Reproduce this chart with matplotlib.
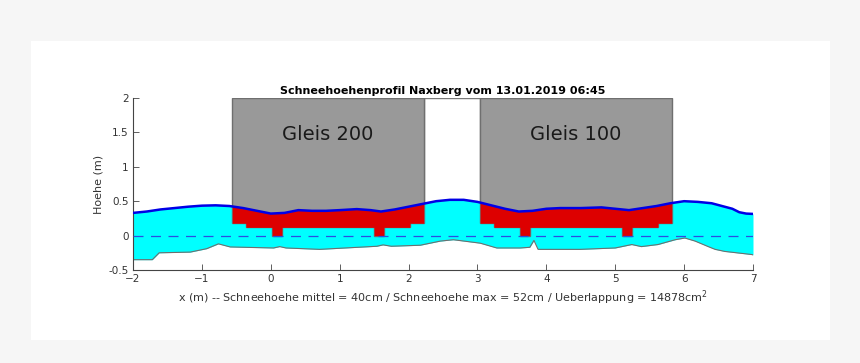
import numpy as np
import matplotlib
matplotlib.use("Agg")
import matplotlib.pyplot as plt
from matplotlib.patches import Rectangle

# snow surface (blue line)
snow_x = [-2.0, -1.8, -1.6, -1.4, -1.2, -1.0, -0.8, -0.6, -0.4, -0.2, 0.0, 0.2, 0.4,
          0.6, 0.8, 1.0, 1.25, 1.45, 1.6, 1.8, 2.0, 2.2, 2.4, 2.6, 2.8, 3.0, 3.2, 3.4,
          3.6, 3.8, 4.0, 4.2, 4.5, 4.8, 5.0, 5.2, 5.4, 5.6, 5.8, 6.0, 6.2, 6.4, 6.55,
          6.7, 6.8, 6.9, 7.0]
snow_y = [0.33, 0.35, 0.38, 0.40, 0.42, 0.435, 0.44, 0.43, 0.40, 0.36, 0.32, 0.33, 0.37,
          0.36, 0.36, 0.37, 0.385, 0.37, 0.35, 0.38, 0.42, 0.46, 0.50, 0.52, 0.52, 0.49,
          0.44, 0.39, 0.35, 0.36, 0.39, 0.40, 0.40, 0.41, 0.39, 0.37, 0.40, 0.43, 0.47,
          0.50, 0.49, 0.47, 0.43, 0.39, 0.34, 0.32, 0.315]

# ground line (lower edge of the snow)
ground_x = [-2.0, -1.72, -1.62, -1.17, -0.93, -0.76, -0.59, 0.04, 0.13, 0.22, 0.71,
            1.54, 1.63, 1.75, 2.17, 2.46, 2.65, 3.04, 3.28, 3.62, 3.76, 3.82, 3.88,
            4.49, 5.0, 5.24, 5.38, 5.62, 5.87, 6.01, 6.16, 6.35, 6.45, 6.59, 6.98, 7.0]
ground_y = [-0.35, -0.35, -0.25, -0.24, -0.19, -0.12, -0.165, -0.18, -0.16, -0.18, -0.2,
            -0.155, -0.135, -0.155, -0.14, -0.08, -0.06, -0.11, -0.18, -0.18, -0.17, -0.07, -0.2,
            -0.2, -0.18, -0.13, -0.16, -0.13, -0.06, -0.035, -0.08, -0.16, -0.2, -0.23, -0.275, -0.28]

# clearance profile of one track, relative to the track centre
prof_edges = [-1.39, -1.19, -0.81, -0.67, 0.67, 0.81, 1.19, 1.39]
prof_levels = [0.18, 0.12, 0.0, 0.12, 0.0, 0.12, 0.18]

tracks = ["Gleis 200", "Gleis 100"]
track_centres = [0.83, 4.43]

mittel = 40
maximum = 52
ueberlappung = 14878

fig = plt.figure(figsize=(8.6, 3.63), dpi=100, facecolor="#f6f6f6")
fig.patches.append(Rectangle((31 / 860, 23 / 363), 799 / 860, 299 / 363,
                             transform=fig.transFigure, facecolor="white", zorder=-1))
ax = fig.add_axes([133 / 860, 93 / 363, 620 / 860, 172 / 363])

xx = np.linspace(-2, 7, 4001)
snow = np.interp(xx, snow_x, snow_y)
ground = np.interp(xx, ground_x, ground_y)

ax.fill_between(xx, ground, snow, color="#00ffff", lw=0, zorder=1)
ax.plot(ground_x, ground_y, color="#6e6e6e", lw=0.8, zorder=2)

# gap between the two tracks
gap_left = track_centres[0] + prof_edges[-1]
gap_right = track_centres[1] + prof_edges[0]
ax.add_patch(Rectangle((gap_left, 0.0), gap_right - gap_left, 2.0, facecolor="white",
                       edgecolor="#7a7a7a", lw=1.0, zorder=0.5))

for name, c in zip(tracks, track_centres):
    edges = np.array(prof_edges) + c
    px = [edges[0]]
    py = [2.0]
    for i, lev in enumerate(prof_levels):
        px += [edges[i], edges[i + 1]]
        py += [lev, lev]
    px.append(edges[-1])
    py.append(2.0)
    ax.fill(px, py, facecolor="#999999", edgecolor="#6f6f6f", lw=1.0, zorder=3)

    idx = np.clip(np.searchsorted(edges, xx, side="right") - 1, 0, len(prof_levels) - 1)
    bottom = np.array(prof_levels)[idx]
    inside = (xx >= edges[0]) & (xx <= edges[-1]) & (snow > bottom)
    ax.fill_between(xx, bottom, snow, where=inside, color="#dd0000", lw=0, zorder=4)
    ax.text(c, 1.47, name, ha="center", va="center", fontsize=14, color="#1a1a1a", zorder=6)

ax.axhline(0, color="#2a4fe0", lw=0.9, dashes=(8, 6), zorder=5)
ax.plot(snow_x, snow_y, color="#0000e6", lw=1.8, zorder=6)

ax.set_xlim(-2, 7)
ax.set_ylim(-0.5, 2)
ax.set_xticks(range(-2, 8))
ax.set_yticks([-0.5, 0, 0.5, 1, 1.5, 2])
ax.set_yticklabels(["-0.5", "0", "0.5", "1", "1.5", "2"])
for s in ["top", "right"]:
    ax.spines[s].set_visible(False)
for s in ["left", "bottom"]:
    ax.spines[s].set_color("#444444")
    ax.spines[s].set_linewidth(0.8)
ax.tick_params(direction="in", length=4, width=0.6, colors="#444444", labelsize=7.5,
               labelcolor="#333333", pad=3)

ax.set_title("Schneehoehenprofil Naxberg vom 13.01.2019 06:45", fontsize=8,
             fontweight="bold", pad=3)
ax.set_ylabel("Hoehe (m)", fontsize=8, color="#333333", labelpad=4)
ax.set_xlabel("x (m) -- Schneehoehe mittel = %dcm / Schneehoehe max = %dcm / "
              "Ueberlappung = %dcm$^2$" % (mittel, maximum, ueberlappung),
              fontsize=8, color="#333333", labelpad=3)

fig.savefig("out.png", dpi=100, facecolor=fig.get_facecolor())
